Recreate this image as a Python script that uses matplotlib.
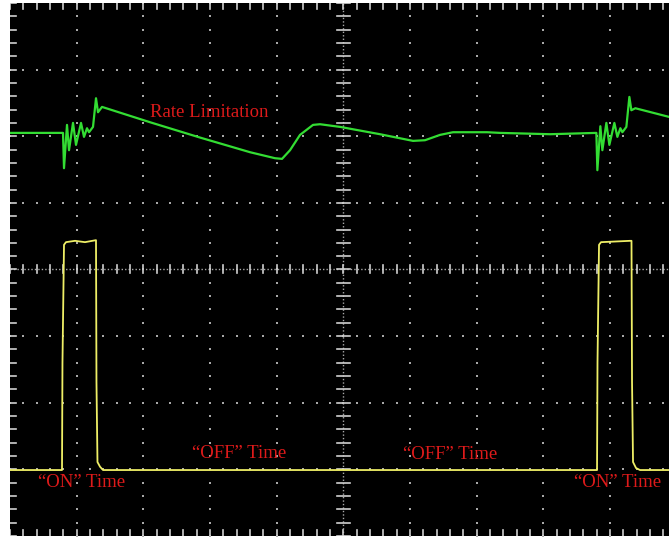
import numpy as np
import matplotlib.pyplot as plt

# Oscilloscope capture, values in screen divisions (x: time div, y: vertical div)
green_t = [0, 0.795, 0.81, 0.855, 0.885, 0.945, 0.99, 1.065, 1.11, 1.155, 1.185, 1.245,
           1.29, 1.32, 1.38, 2.10, 2.85, 3.60, 3.975, 4.08, 4.20, 4.35, 4.545, 4.65,
           4.95, 5.55, 6.045, 6.225, 6.45, 6.645, 7.155, 7.35, 8.10, 8.795, 8.81, 8.855,
           8.885, 8.945, 8.99, 9.065, 9.11, 9.155, 9.185, 9.245, 9.29, 9.32, 9.38, 9.885]
green_v = [6.05, 6.05, 5.52, 6.17, 5.79, 6.20, 5.87, 6.20, 5.99, 6.12, 6.06, 6.14,
           6.57, 6.36, 6.44, 6.21, 5.98, 5.76, 5.67, 5.66, 5.79, 6.02, 6.17, 6.18,
           6.14, 6.03, 5.93, 5.94, 6.02, 6.06, 6.06, 6.05, 6.03, 6.05, 5.49, 6.15,
           5.79, 6.20, 5.87, 6.20, 5.99, 6.12, 6.06, 6.14, 6.59, 6.39, 6.42, 6.29]

yellow_t = [0, 0.78, 0.787, 0.81, 0.84, 0.975, 1.125, 1.29, 1.297, 1.312, 1.35, 1.395,
            8.805, 8.812, 8.835, 8.865, 9.30, 9.322, 9.33, 9.345, 9.39, 9.45, 9.885]
yellow_v = [0.99, 0.99, 2.60, 4.37, 4.41, 4.43, 4.41, 4.44, 2.31, 1.11, 1.04, 0.99,
            0.99, 2.60, 4.37, 4.41, 4.43, 4.43, 2.31, 1.11, 1.02, 0.99, 0.99]

labels = ['Rate Limitation', '\u201cOFF\u201d Time', '\u201cOFF\u201d Time', '\u201cON\u201d Time', '\u201cON\u201d Time']
label_x = [2.985, 3.43, 6.60, 1.08, 9.12]
label_y = [6.35, 1.24, 1.22, 0.80, 0.80]

W, H = 669, 539
fig = plt.figure(figsize=(W / 100, H / 100), dpi=100, facecolor='white')
div = 66.67
left, bottom = 10, 3
xmax = (W - left) / div
ax = fig.add_axes([left / W, bottom / H, 1 - left / W, 8 * 66.63 / H])
ax.set_facecolor('black')
ax.set_xlim(0, xmax)
ax.set_ylim(0, 8)
for s in ax.spines.values():
    s.set_visible(False)
ax.set_xticks([])
ax.set_yticks([])

grid_c = '#a8a8a8'
tick_c = '#d0d0d0'
# graticule dots
fine = np.arange(0, 10.01, 0.2)
for gy in range(1, 8):
    if gy == 4:
        continue
    ax.scatter(fine, np.full_like(fine, gy), s=1.2, c=grid_c, marker='s', lw=0)
fine_y = np.arange(0, 8.01, 0.2)
for gx in range(1, 10):
    if gx == 5:
        continue
    ax.scatter(np.full_like(fine_y, gx), fine_y, s=1.2, c=grid_c, marker='s', lw=0)

# centre axes with dense dots and ticks
ax.axhline(4, color=grid_c, lw=1, ls=(0, (1, 1.5)))
ax.axvline(5, color=grid_c, lw=1, ls=(0, (1, 1.5)))
for t in fine:
    ax.plot([t, t], [4 - 0.06, 4 + 0.06], color=tick_c, lw=1.2)
for t in fine_y:
    ax.plot([5 - 0.095, 5 + 0.095], [t, t], color=tick_c, lw=1.2)
# border ticks
for t in fine_y:
    ax.plot([0, 0.09], [t, t], color=tick_c, lw=1.2)
for t in fine:
    ax.plot([t, t], [8, 8 - 0.09], color=tick_c, lw=1.2)
    ax.plot([t, t], [0, 0.09], color=tick_c, lw=1.2)

ax.plot(green_t, green_v, color='#33dd33', lw=1.6)
ax.plot(yellow_t, yellow_v, color='#eeee66', lw=1.3)

for txt, x, y in zip(labels, label_x, label_y):
    ax.text(x, y, txt, color='#dd1a1a', fontsize=13.5, family='Liberation Serif',
            ha='center', va='center')

fig.savefig('out.png', dpi=100, facecolor='white')
